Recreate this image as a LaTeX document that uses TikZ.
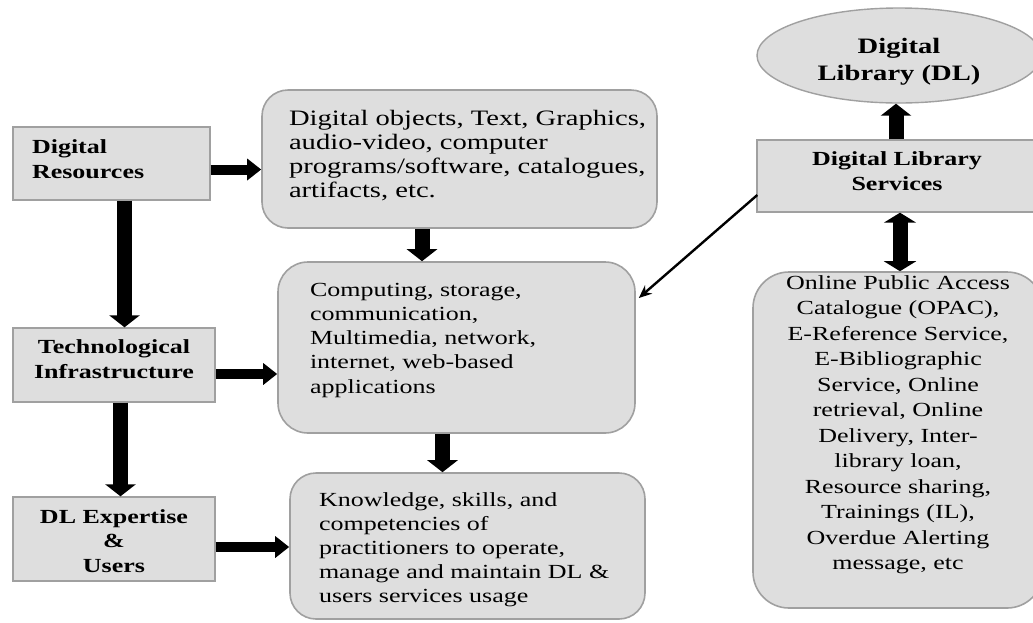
\documentclass[tikz,border=0pt]{standalone}
\usepackage{fontspec}
\setmainfont{Liberation Serif}[FakeStretch=1.3]
\usetikzlibrary{arrows.meta,calc,shapes.geometric}

\definecolor{boxfill}{RGB}{222,222,222}
\definecolor{boxline}{RGB}{160,160,160}

% fixed-size text block: width, height, left indent, first baseline, lines
\newcommand\leftpar[5]{\parbox[c][#2][t]{#1}{\raggedright\leftskip=#3\relax
  \vspace*{\dimexpr#4-\ht\strutbox\relax}\strut#5}}
% fixed-size centred text block: width, height, first baseline, lines
\newcommand\midpar[4]{\parbox[c][#2][t]{#1}{\centering
  \vspace*{\dimexpr#3-\ht\strutbox\relax}\strut#4}}

\tikzset{
  sqbox/.style={draw=boxline, fill=boxfill, line width=1.4pt, inner sep=0pt,
    font=\bfseries\fontsize{20}{25}\selectfont},
  rbox/.style={draw=boxline, fill=boxfill, line width=1.6pt, inner sep=0pt,
    rounded corners=26pt, font=\fontsize{20}{24.3}\selectfont},
  oval/.style={ellipse, draw=boxline, fill=boxfill, line width=1.4pt, inner sep=0pt,
    font=\bfseries\fontsize{22}{27}\selectfont},
  harrow/.style={line width=10pt, -{Triangle[width=21pt,length=14pt]}},
  varrow/.style={line width=15pt, -{Triangle[width=30pt,length=12pt]}},
  dvarrow/.style={line width=15pt, {Triangle[width=32pt,length=10pt]}-{Triangle[width=32pt,length=10pt]}},
  slimarrow/.style={line width=2.4pt, -{Stealth[length=13pt,width=11pt]}}
}

\begin{document}
\begin{tikzpicture}[x=1pt,y=-1pt]
\useasboundingbox (0,0) rectangle (1033,622);
\clip (0,0) rectangle (1033,622);
\fill[white] (0,0) rectangle (1033,622);

% left column
\node[sqbox] (dr) at (111.5,163.5)
  {\leftpar{197pt}{73pt}{19pt}{26pt}{Digital\\Resources}};
\node[sqbox] (ti) at (114,365)
  {\midpar{202pt}{74pt}{25pt}{Technological\\Infrastructure}};
\node[sqbox, font=\bfseries\fontsize{20}{24.5}\selectfont] (dle) at (114,539)
  {\midpar{202pt}{84pt}{26pt}{DL Expertise\\\&\\Users}};

% middle column
\node[rbox, font=\fontsize{22}{24.3}\selectfont] (obj) at (459.5,159)
  {\leftpar{395pt}{138pt}{27pt}{35pt}{Digital objects, Text, Graphics,\\audio-video, computer\\programs/software, catalogues,\\artifacts, etc.}};
\node[rbox, rounded corners=30pt] (tech) at (456.5,347.5)
  {\leftpar{357pt}{171pt}{32pt}{34pt}{Computing, storage,\\communication,\\Multimedia, network,\\internet, web-based\\applications}};
\node[rbox, font=\fontsize{20}{24}\selectfont] (know) at (467.5,546)
  {\leftpar{355pt}{146pt}{29pt}{33pt}{Knowledge, skills, and\\competencies of\\practitioners to operate,\\manage and maintain DL \&\\users services usage}};

% right column
\node[oval, minimum width=284pt, minimum height=95pt] (dl) at (899,55.5)
  {\midpar{180pt}{60pt}{27.5pt}{Digital\\Library (DL)}};
\node[sqbox] (dls) at (897,176)
  {\midpar{280pt}{72pt}{25pt}{Digital Library\\Services}};
\node[rbox, rounded corners=36pt, font=\fontsize{20}{25.5}\selectfont] (opac) at (898,440)
  {\midpar{290pt}{336pt}{17.3pt}{Online Public Access\\Catalogue (OPAC),\\E-Reference Service,\\E-Bibliographic\\Service, Online\\retrieval, Online\\Delivery, Inter-\\library loan,\\Resource sharing,\\Trainings (IL),\\Overdue Alerting\\message, etc}};

% connectors
\coordinate (p1) at ($(dr.east)+(0,6)$);
\draw[harrow] (p1) -- (p1 -| obj.west);
\coordinate (p2) at ($(dr.south)+(13,0)$);
\draw[varrow] (p2) -- (p2 |- ti.north);
\coordinate (p3) at ($(ti.east)+(0,9)$);
\draw[harrow] (p3) -- (p3 -| tech.west);
\coordinate (p4) at ($(ti.south)+(6.5,0)$);
\draw[varrow] (p4) -- (p4 |- dle.north);
\coordinate (p5) at ($(dle.east)+(0,8)$);
\draw[harrow] (p5) -- (p5 -| know.west);
\coordinate (p6) at ($(obj.south)+(-37.5,0)$);
\draw[varrow] (p6) -- (p6 |- tech.north);
\coordinate (p7) at ($(tech.south)+(-14,0)$);
\draw[varrow] (p7) -- (p7 |- know.north);
\coordinate (p8) at ($(dls.north)+(-1,0)$);
\draw[varrow] (p8) -- (p8 |- dl.south);
\coordinate (p9) at ($(dls.south)+(3,0)$);
\draw[dvarrow] (p9) -- (p9 |- opac.north);
\draw[slimarrow] ($(dls.west)+(1,19)$) -- ($(tech.east)+(3,-49.5)$);
\end{tikzpicture}
\end{document}
